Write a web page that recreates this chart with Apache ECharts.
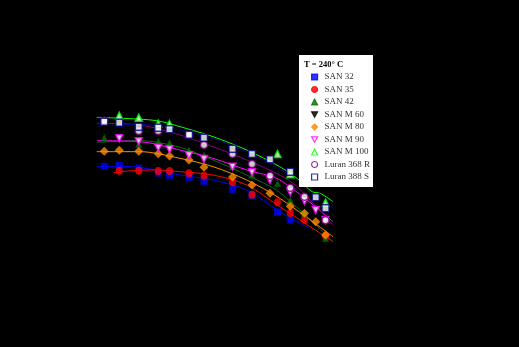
<!DOCTYPE html>
<html>
<head>
<meta charset="utf-8">
<script src="https://cdn.jsdelivr.net/npm/echarts@6/dist/echarts.min.js"></script>
<style>html,body{margin:0;padding:0;background:#000;}#c{width:519px;height:347px;}</style>
</head>
<body>
<div id="c"></div>
<script>
// x = log10 shear rate, y = log10 viscosity (axis drawn in black on black)
const seriesNames = ['SAN 32','SAN 35','SAN 42','SAN M 60','SAN M 80','SAN M 90','SAN M 100','Luran 368 R','Luran 388 S'];
const colors = ['#0000ff','#ff0000','#007000','#000000','#ff8c00','#ff00ff','#00ff00','#800080','#000080'];

const san32 = [[-0.33,2.484],[-0.13,2.496],[0.13,2.464],[0.39,2.404],[0.54,2.376],[0.80,2.352],[1.00,2.304],[1.38,2.208],[1.64,2.136],[1.98,1.936],[2.15,1.84]];
const san35 = [[-0.13,2.432],[0.13,2.432],[0.39,2.428],[0.54,2.428],[0.80,2.40],[1.00,2.372],[1.38,2.292],[1.64,2.144],[1.98,2.052],[2.15,1.924],[2.34,1.844],[2.62,1.652]];
const san42 = [[-0.33,2.828],[0.13,2.748],[0.39,2.784],[0.54,2.768],[0.80,2.68],[1.00,2.62],[1.38,2.48],[1.64,2.38],[1.98,2.28],[2.15,2.08],[2.34,1.92],[2.62,1.62]];
const sanM60 = [[0.13,2.93],[0.80,2.87],[1.38,2.63],[1.64,2.51],[1.88,2.36],[2.15,2.23],[2.62,1.85]];
const sanM80 = [[-0.33,2.664],[-0.13,2.676],[0.13,2.664],[0.39,2.636],[0.54,2.608],[0.80,2.56],[1.00,2.472],[1.38,2.356],[1.64,2.26],[1.88,2.16],[2.15,2.004],[2.34,1.92],[2.49,1.82],[2.62,1.66]];
const sanM90 = [[-0.13,2.82],[0.13,2.784],[0.39,2.708],[0.54,2.688],[0.80,2.616],[1.00,2.572],[1.38,2.48],[1.64,2.412],[1.88,2.32],[2.15,2.176],[2.34,2.068],[2.49,1.96],[2.62,1.84]];
const sanM100 = [[-0.13,3.092],[0.13,3.068],[0.39,2.996],[0.54,2.992],[1.98,2.632],[2.15,2.388],[2.62,2.048]];
const luran368 = [[-0.33,3.032],[0.13,2.908],[0.39,2.908],[0.80,2.86],[1.00,2.74],[1.38,2.632],[1.64,2.512],[1.88,2.372],[2.15,2.228],[2.34,2.12],[2.62,1.836]];
const luran388 = [[-0.33,3.02],[-0.13,3.008],[0.13,2.96],[0.39,2.948],[0.54,2.928],[0.80,2.864],[1.00,2.828],[1.38,2.696],[1.64,2.632],[1.88,2.568],[2.15,2.42],[2.49,2.112],[2.62,1.98]];

// fitted curves
const fit32 = [[-0.43,2.484],[0.01,2.48],[0.37,2.44],[0.68,2.38],[1.12,2.32],[1.57,2.2],[2.01,1.94],[2.41,1.74]];
const fit35 = [[-0.21,2.408],[0.06,2.432],[0.37,2.44],[0.68,2.42],[1.12,2.38],[1.57,2.26],[2.01,2.0],[2.72,1.58]];
const fit42 = [[-0.43,2.772],[0.15,2.792],[0.68,2.712],[1.12,2.56],[1.57,2.38],[2.01,2.17],[2.72,1.58]];
const fitM80 = [[-0.43,2.66],[0.15,2.66],[0.68,2.58],[1.12,2.48],[1.57,2.32],[2.01,2.1],[2.72,1.64]];
const fitM90 = [[-0.43,2.792],[0.15,2.78],[0.68,2.68],[1.12,2.58],[1.57,2.44],[2.01,2.32],[2.72,1.82]];
const fit368 = [[-0.43,3.0],[0.15,2.98],[0.68,2.86],[1.12,2.72],[1.57,2.56],[2.01,2.38],[2.24,2.24],[2.72,1.78]];
const fit388 = [[-0.43,2.968],[0.15,2.988],[0.68,2.92],[1.12,2.82],[1.57,2.66],[2.01,2.45],[2.24,2.32],[2.41,2.17],[2.72,1.98]];
const fitM100 = [[-0.43,3.072],[-0.08,3.06],[0.37,3.032],[0.68,2.96],[1.12,2.84],[1.57,2.68],[2.01,2.48],[2.24,2.34],[2.44,2.18],[2.55,2.16],[2.72,2.06]];

const legendTitle = 'T = 240° C';

const scatterData = [san32, san35, san42, sanM60, sanM80, sanM90, sanM100, luran368, luran388];
const fits = [[fit32,0],[fit35,1],[fit42,2],[fitM80,4],[fitM90,5],[fit368,7],[fit388,8],[fitM100,6]];
const invTri = 'path://M0,0L10,0L5,9Z';
const symbols = [
  {symbol:'rect', size:7, open:false},
  {symbol:'circle', size:[7,8], open:false},
  {symbol:'triangle', size:7, open:false},
  {symbol:invTri, size:7, open:false},
  {symbol:'diamond', size:9, open:false},
  {symbol:invTri, size:7, open:true},
  {symbol:'triangle', size:7, open:true},
  {symbol:'circle', size:7, open:true},
  {symbol:'rect', size:7, open:true}
];

const series = [];
fits.forEach(function(f){
  series.push({
    type:'line', name:'fit '+seriesNames[f[1]], data:f[0], smooth:0.3,
    showSymbol:false, symbol:'none', silent:true,
    lineStyle:{color:colors[f[1]], width:1}, z:2
  });
});
scatterData.forEach(function(d,i){
  const s = symbols[i];
  series.push({
    type:'scatter', name:seriesNames[i], data:d, symbol:s.symbol, symbolSize:s.size,
    itemStyle: s.open ? {color:'#ffffff', borderColor:colors[i], borderWidth:1.5}
                      : {color:colors[i], borderColor:colors[i], borderWidth:0},
    z:3
  });
});

const chart = echarts.init(document.getElementById('c'));
chart.setOption({
  backgroundColor:'#000000',
  animation:false,
  grid:{left:54, top:40, width:300, height:250},
  xAxis:{type:'value', min:-1, max:3, show:false},
  yAxis:{type:'value', min:1, max:4, show:false},
  legend:{
    data:seriesNames, orient:'vertical', left:311, top:72.5, padding:0,
    itemWidth:6, itemHeight:6, itemGap:3.5, z:6,
    itemStyle:{borderWidth:1.2},
    textStyle:{fontFamily:'Liberation Serif', fontSize:9, lineHeight:9, color:'#333333', padding:[0,0,0,2]}
  },
  graphic:[
    {type:'rect', shape:{x:299, y:55, width:74, height:132}, style:{fill:'#ffffff'}, z:5},
    {type:'text', x:304, y:65, style:{text:legendTitle, font:'bold 8.5px "Liberation Serif"', fill:'#000000', verticalAlign:'middle'}, z:7}
  ],
  series:series
});
</script>
</body>
</html>
